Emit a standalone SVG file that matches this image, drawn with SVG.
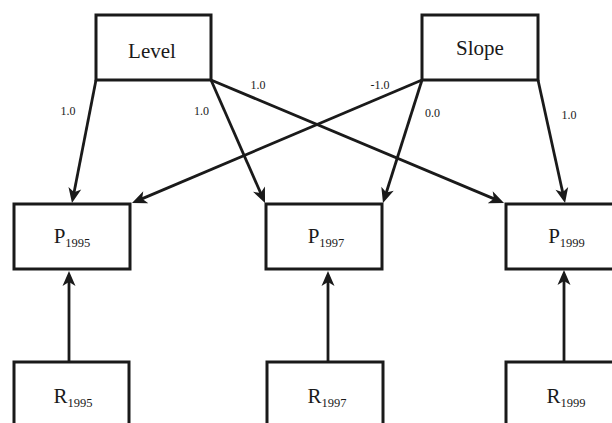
<svg xmlns="http://www.w3.org/2000/svg" width="612" height="423" viewBox="0 0 612 423">
  <defs>
    <style>
      .box { fill: #ffffff; stroke: #1a1a1a; stroke-width: 3; }
      .lbl { font-family: "Liberation Serif", "Times New Roman", serif; font-size: 21px; fill: #1a1a1a; text-anchor: middle; }
      .sub { font-size: 12.5px; }
      .coef { font-family: "Liberation Serif", "Times New Roman", serif; font-size: 12px; fill: #1a1a1a; text-anchor: middle; }
      .edge { fill: none; stroke: #1a1a1a; stroke-width: 2.8; marker-end: url(#arrow); }
    </style>
    <marker id="arrow" markerUnits="userSpaceOnUse" viewBox="-16 -8 17 16" markerWidth="17" markerHeight="16" refX="-10" refY="0" orient="auto">
      <path d="M0,0 L-15,-6.5 L-11,0 L-15,6.5 Z" fill="#1a1a1a"/>
    </marker>
  </defs>
  <rect x="0" y="0" width="612" height="423" fill="#ffffff"/>

  <g id="connectors">
    <path class="edge" d="M96,80 L73.9,193.2"/>
    <path class="edge" d="M211,80 L261,193.8"/>
    <path class="edge" d="M211,80 L494.8,199.1"/>
    <path class="edge" d="M422,80 L141.2,199.1"/>
    <path class="edge" d="M422,80 L386,193.5"/>
    <path class="edge" d="M538,80 L562.9,193.2"/>
    <path class="edge" d="M69,362 L69,281"/>
    <path class="edge" d="M328,362 L328,281"/>
    <path class="edge" d="M564,362 L564,280"/>
  </g>

  <g id="edge-labels">
    <text class="coef" x="68" y="115">1.0</text>
    <text class="coef" x="201.5" y="115">1.0</text>
    <text class="coef" x="258" y="89">1.0</text>
    <text class="coef" x="380" y="89">-1.0</text>
    <text class="coef" x="432.5" y="117">0.0</text>
    <text class="coef" x="569" y="119">1.0</text>
  </g>

  <g id="level">
    <rect class="box" x="96" y="15" width="115" height="65"/>
    <text class="lbl" x="152" y="58">Level</text>
  </g>
  <g id="slope">
    <rect class="box" x="422" y="15" width="116" height="65"/>
    <text class="lbl" x="480" y="55">Slope</text>
  </g>

  <g id="p1995">
    <rect class="box" x="14" y="204" width="116" height="65"/>
    <text class="lbl" x="72" y="243">P<tspan class="sub" dy="4">1995</tspan></text>
  </g>
  <g id="p1997">
    <rect class="box" x="266" y="204" width="116" height="65"/>
    <text class="lbl" x="326" y="243">P<tspan class="sub" dy="4">1997</tspan></text>
  </g>
  <g id="p1999">
    <rect class="box" x="506" y="204" width="124" height="65"/>
    <text class="lbl" x="566.5" y="243">P<tspan class="sub" dy="4">1999</tspan></text>
  </g>

  <g id="r1995">
    <rect class="box" x="14" y="362" width="115" height="80"/>
    <text class="lbl" x="73" y="403">R<tspan class="sub" dy="4">1995</tspan></text>
  </g>
  <g id="r1997">
    <rect class="box" x="267" y="362" width="116" height="80"/>
    <text class="lbl" x="327" y="403">R<tspan class="sub" dy="4">1997</tspan></text>
  </g>
  <g id="r1999">
    <rect class="box" x="506" y="362" width="124" height="80"/>
    <text class="lbl" x="566" y="403">R<tspan class="sub" dy="4">1999</tspan></text>
  </g>
</svg>
